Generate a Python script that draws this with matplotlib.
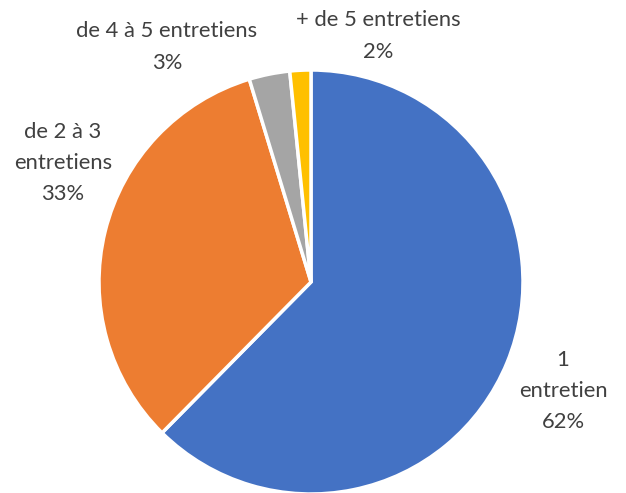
import matplotlib
matplotlib.use("Agg")
import matplotlib.pyplot as plt

categories = ["1\nentretien", "de 2 à 3\nentretiens", "de 4 à 5 entretiens", "+ de 5 entretiens"]
values = [62.4, 32.9, 3.1, 1.6]
pct_labels = ["62%", "33%", "3%", "2%"]
colors = ["#4472C4", "#ED7D31", "#A5A5A5", "#FFC000"]

W, H = 626, 493
cx, cy, R = 311, 282, 212

fig = plt.figure(figsize=(W / 100, H / 100), dpi=100)
ax = fig.add_axes([0, 0, 1, 1])
ax.pie(values, colors=colors, startangle=90, counterclock=False, radius=1,
       wedgeprops=dict(edgecolor="white", linewidth=2.5))
ax.set_aspect("auto")
ax.set_xlim(-cx / R, (W - cx) / R)
ax.set_ylim((cy - H) / R, cy / R)
ax.axis("off")

label_pos = [(563, 391), (63, 163), (167, 47), (378, 36)]
for cat, pct, (px, py) in zip(categories, pct_labels, label_pos):
    ax.text((px - cx) / R, (cy - py) / R, cat + "\n" + pct, ha="center", va="center",
            fontsize=15.8, color="#404040", linespacing=1.7, family="Lato")

fig.savefig("out.png", dpi=100)
